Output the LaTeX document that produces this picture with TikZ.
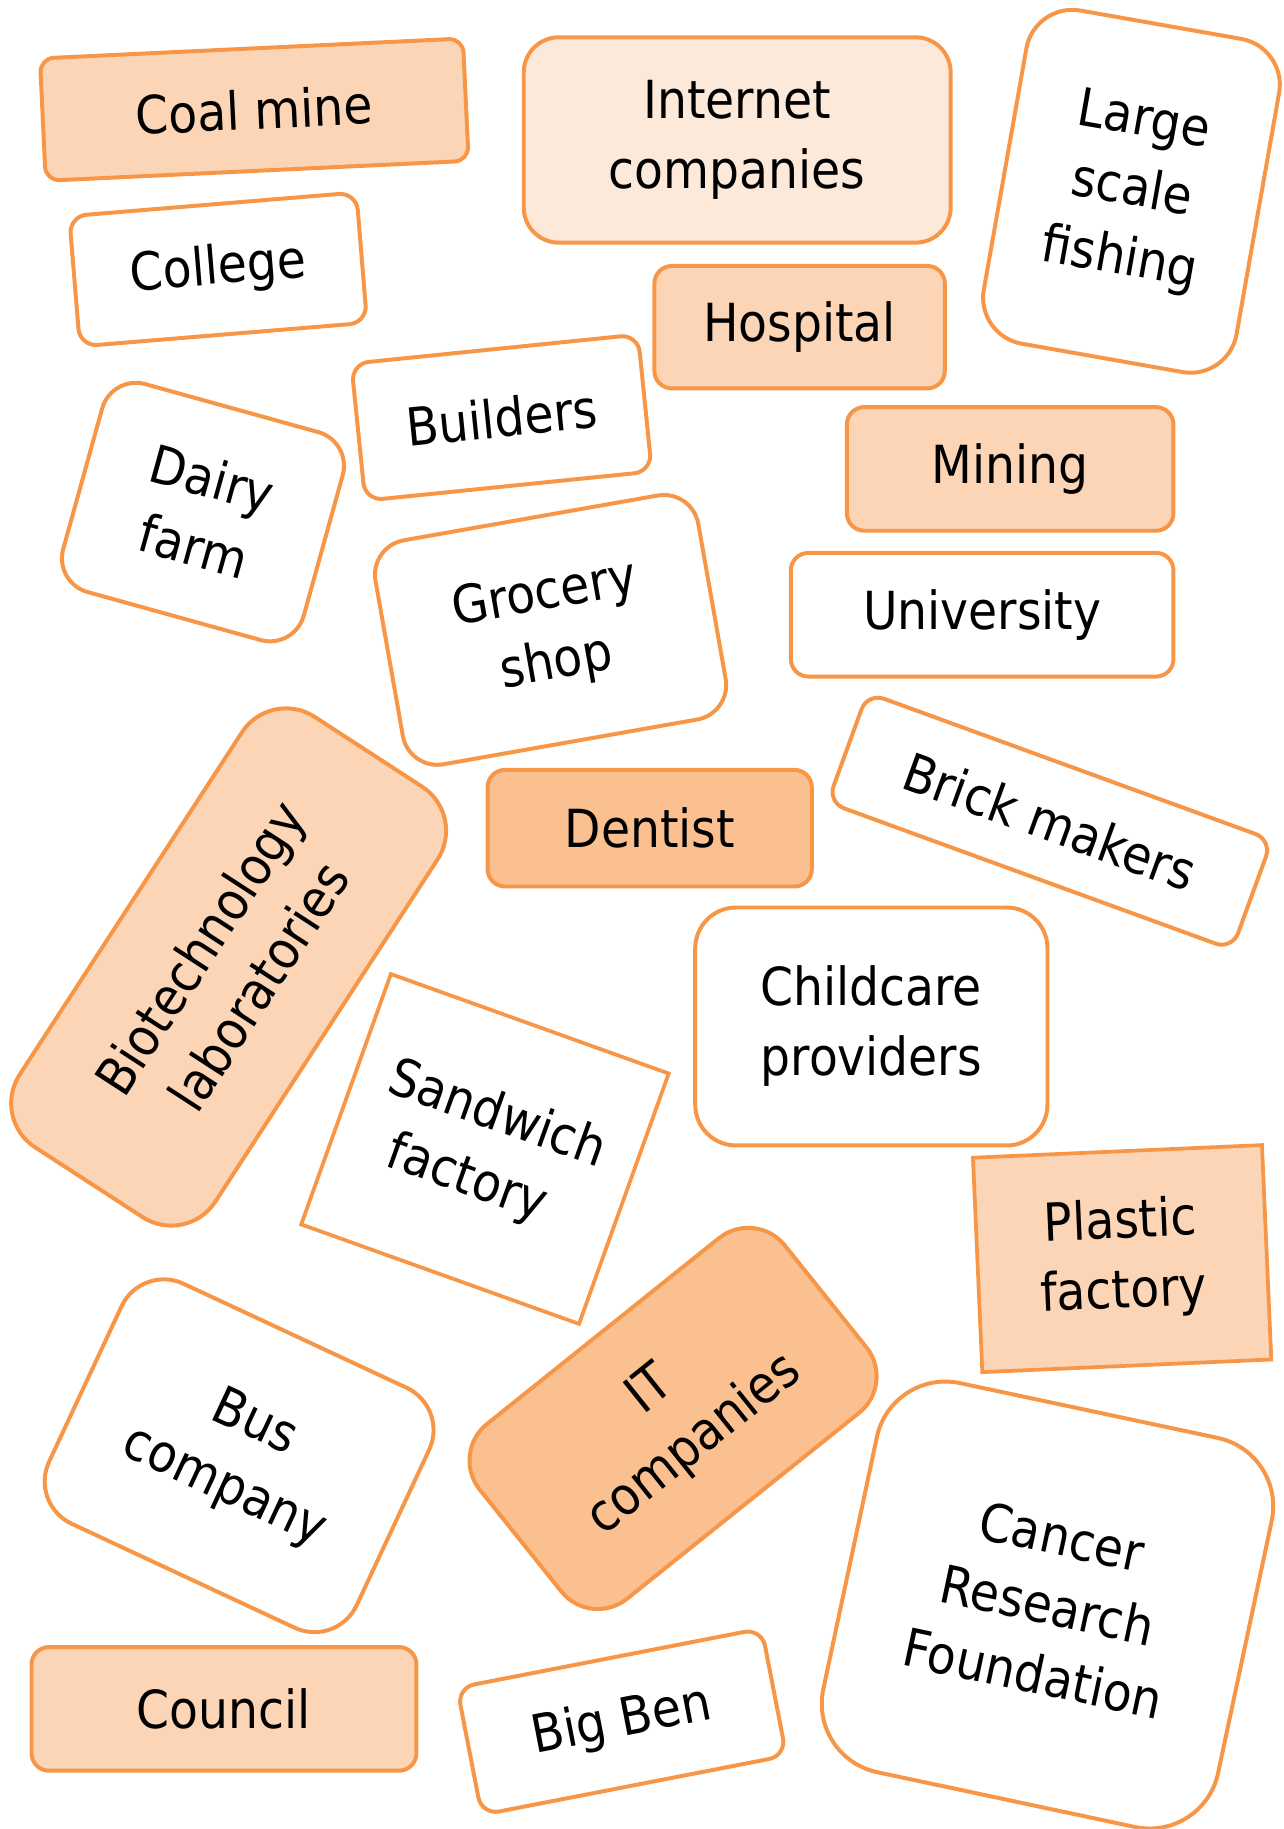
\documentclass[tikz,border=0pt]{standalone}
\usepackage{fontspec}
\setmainfont{DejaVu Sans Condensed}
\definecolor{edge}{HTML}{F79646}
\definecolor{fillA}{HTML}{FBD5B5}
\definecolor{fillB}{HTML}{FDE9D9}
\definecolor{fillC}{HTML}{FAC090}
\tikzset{
  card/.style={draw=edge, line width=3.4pt, fill=white, align=center, inner sep=0pt,
    font=\fontsize{45}{60}\selectfont, rounded corners=#1},
  card/.default=15pt,
  sharpcard/.style={draw=edge, line width=3.2pt, fill=white, inner sep=0pt,
    font=\fontsize{45}{60}\selectfont, sharp corners},
}
\begin{document}
\begin{tikzpicture}[x=1pt,y=-1pt]
\useasboundingbox (0,0) rectangle (1100,1568);
\node[card=12pt, fill=fillA, minimum width=363pt, minimum height=105pt, rotate=2.7] (coal) at (218,94) {Coal mine};
\node[card=30pt, fill=fillB, minimum width=366pt, minimum height=176pt] (inet) at (632,120) {Internet\\companies};
\node[card=40pt, minimum width=220pt, minimum height=290pt, rotate=-10] (fish) at (970,164) {Large\\scale\\fishing};
\node[card, minimum width=247pt, minimum height=112pt, rotate=4.7] (college) at (187,231) {College};
\node[card, fill=fillA, minimum width=249pt, minimum height=105pt] (hosp) at (685.5,280.5) {Hospital};
\node[card, minimum width=247pt, minimum height=118pt, rotate=5.8] (build) at (430,358) {Builders};
\node[card=30pt, minimum width=214pt, minimum height=185pt, rotate=-15.5] (dairy) at (174,439) {Dairy\\farm};
\node[card=30pt, minimum width=281pt, minimum height=195pt, rotate=10] (groc) at (472,540) {Grocery\\shop};
\node[card, fill=fillA, minimum width=280pt, minimum height=106pt] (mining) at (866,402) {Mining};
\node[card, minimum width=328pt, minimum height=106pt] (univ) at (842,527) {University};
\node[card=45pt, fill=fillA, minimum width=440pt, minimum height=200pt, rotate=57] (bio) at (196,829) {Biotechnology\\laboratories};
\node[card, fill=fillC, minimum width=278pt, minimum height=100pt] (dent) at (557,710) {Dentist};
\node[card, minimum width=369pt, minimum height=100pt, rotate=-20] (brick) at (900,704) {Brick makers};
\node[card=35pt, minimum width=302pt, minimum height=204pt] (child) at (747,880) {Childcare\\providers};
\node[sharpcard, align=left, minimum width=253pt, minimum height=228pt, rotate=-19.7] (sand) at (415.75,985) {Sandwich\\\hspace*{20pt}factory};
\node[sharpcard, align=center, fill=fillA, minimum width=248pt, minimum height=184pt, rotate=2.5] (plastic) at (962,1079) {Plastic\\factory};
\node[card=40pt, minimum width=291pt, minimum height=227pt, rotate=-25] (bus) at (205,1248) {Bus\\company};
\node[card=40pt, fill=fillC, minimum width=335pt, minimum height=192pt, rotate=38.7] (it) at (577,1216) {IT\\companies};
\node[card=60pt, minimum width=346pt, minimum height=341pt, rotate=-12] (cancer) at (898,1376) {Cancer\\Research\\Foundation};
\node[card, fill=fillA, minimum width=330pt, minimum height=106pt] (council) at (192,1465) {Council};
\node[card, minimum width=266pt, minimum height=111pt, rotate=11] (bigben) at (533,1476) {Big Ben};
\end{tikzpicture}
\end{document}
